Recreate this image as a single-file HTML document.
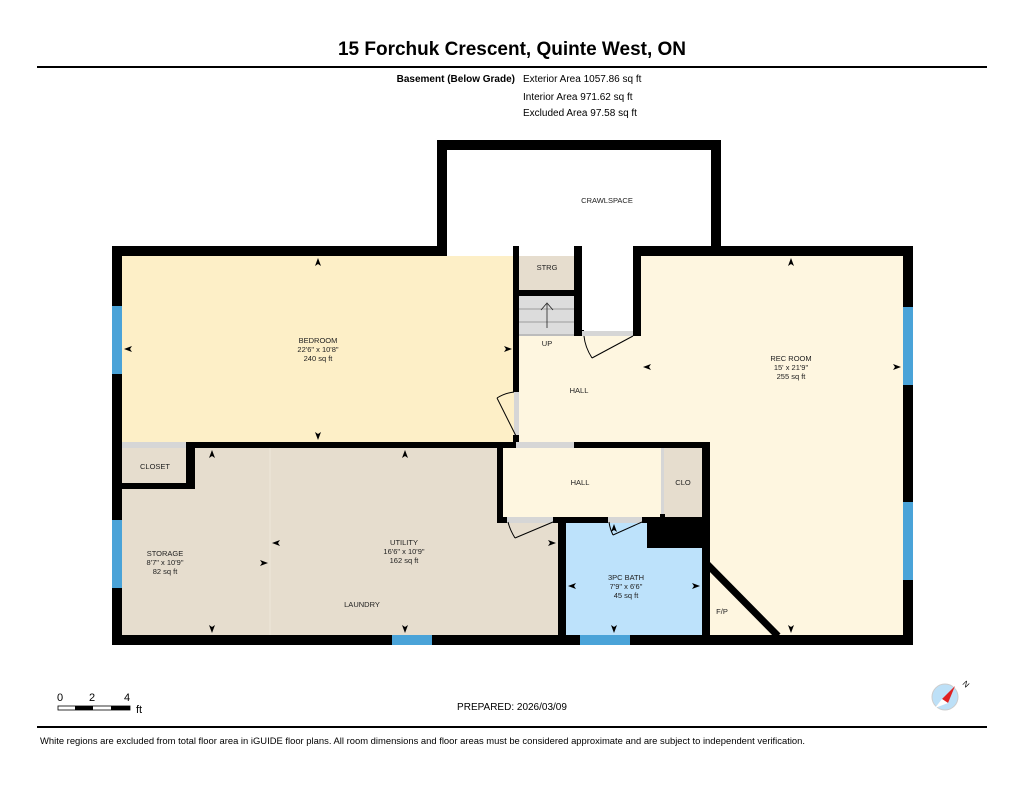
<!DOCTYPE html>
<html><head><meta charset="utf-8"><style>
body{margin:0;background:#fff;width:1024px;height:791px;overflow:hidden;font-family:"Liberation Sans",Arial,sans-serif}
</style></head><body>
<svg width="1024" height="791" xmlns="http://www.w3.org/2000/svg" font-family="Liberation Sans, Arial, sans-serif">
<text x="512" y="55" text-anchor="middle" font-size="19" font-weight="bold">15 Forchuk Crescent, Quinte West, ON</text>
<rect x="37" y="66" width="950" height="2" fill="#000"/>
<text x="515" y="82" text-anchor="end" font-size="10" font-weight="bold">Basement (Below Grade)</text>
<text x="523" y="82" font-size="10">Exterior Area 1057.86 sq ft</text>
<text x="523" y="100" font-size="10">Interior Area 971.62 sq ft</text>
<text x="523" y="116" font-size="10">Excluded Area 97.58 sq ft</text>

<!-- floors -->
<rect x="122" y="256" width="392" height="187" fill="#fdefc7"/>
<rect x="514" y="335" width="135" height="108" fill="#fef6e0"/>
<rect x="640" y="256" width="263" height="379" fill="#fef6e0"/>
<rect x="122" y="448" width="436" height="187" fill="#e6ddce"/>
<line x1="270" y1="448" x2="270" y2="635" stroke="#efe7da" stroke-width="1"/>
<rect x="503" y="448" width="160" height="70" fill="#fef6e0"/>
<rect x="663" y="448" width="39" height="70" fill="#e6ddce"/>
<rect x="122" y="448" width="66" height="37" fill="#e6ddce"/>
<rect x="566" y="522" width="136" height="113" fill="#bde2fb"/>
<rect x="518" y="256" width="58" height="35" fill="#e6ddce"/>
<rect x="518" y="296" width="58" height="40" fill="#dcdcdc"/>
<line x1="518" y1="309" x2="576" y2="309" stroke="#888" stroke-width="0.8"/>
<line x1="518" y1="322" x2="576" y2="322" stroke="#888" stroke-width="0.8"/>
<line x1="518" y1="335" x2="576" y2="335" stroke="#888" stroke-width="0.8"/>
<line x1="547" y1="328" x2="547" y2="304" stroke="#222" stroke-width="0.8"/>
<path d="M541 310 L547 303 L553 310" fill="none" stroke="#222" stroke-width="0.8"/>

<g fill="#000">
<rect x="437" y="140" width="284" height="10"/>
<rect x="437" y="140" width="10" height="115"/>
<rect x="711" y="140" width="10" height="115"/>
<rect x="112" y="246" width="335" height="10"/>
<rect x="633" y="246" width="280" height="10"/>
<rect x="112" y="246" width="10" height="399"/>
<rect x="903" y="246" width="10" height="399"/>
<rect x="112" y="635" width="801" height="10"/>
<rect x="513" y="246" width="6" height="90"/>
<rect x="574" y="246" width="8" height="90"/>
<rect x="633" y="246" width="8" height="90"/>
<rect x="518" y="290" width="58" height="6"/>
<rect x="574" y="330" width="10" height="6"/>
<rect x="513" y="336" width="6" height="56"/>
<rect x="513" y="435" width="6" height="13"/>
<rect x="186" y="442" width="330" height="6"/>
<rect x="574" y="442" width="136" height="6"/>
<rect x="186" y="442" width="9" height="47"/>
<rect x="122" y="483" width="73" height="6"/>
<rect x="497" y="442" width="6" height="81"/>
<rect x="497" y="517" width="10" height="6"/>
<rect x="553" y="517" width="55" height="6"/>
<rect x="642" y="517" width="68" height="6"/>
<rect x="558" y="517" width="8" height="120"/>
<rect x="702" y="442" width="8" height="195"/>
<rect x="647" y="517" width="58" height="31"/>
<rect x="660" y="442" width="5" height="6"/>
<rect x="660" y="514" width="5" height="6"/>
</g>
<line x1="706" y1="563" x2="778" y2="636" stroke="#000" stroke-width="7"/>
<g fill="#d6d6d6">
<rect x="582" y="331" width="51" height="5"/>
<rect x="514" y="392" width="5" height="43"/>
<rect x="516" y="442" width="58" height="6"/>
<rect x="122" y="442" width="64" height="6"/>
<rect x="507" y="517" width="46" height="6"/>
<rect x="608" y="517" width="34" height="6"/>
<rect x="661" y="448" width="3" height="66"/>
</g>
<g stroke="#000" stroke-width="1" fill="none">
<line x1="633" y1="336" x2="592" y2="358"/><path d="M592 358 Q585 347 584 336"/>
<line x1="516" y1="436" x2="497" y2="398"/><path d="M497 398 Q505 393 514 392"/>
<line x1="553" y1="522" x2="515" y2="538"/><path d="M515 538 Q510 530 508 522"/>
<line x1="642" y1="522" x2="613" y2="535"/><path d="M613 535 Q610 529 609 522"/>
</g>
<g fill="#4aa3d8">
<rect x="112" y="306" width="10" height="68"/>
<rect x="112" y="520" width="10" height="68"/>
<rect x="903" y="307" width="10" height="78"/>
<rect x="903" y="502" width="10" height="78"/>
<rect x="392" y="635" width="40" height="10"/>
<rect x="580" y="635" width="50" height="10"/>
</g>
<g fill="#000">
<path d="M318 258 l-3 8 l3 -2 l3 2z"/><path d="M318 440 l-3 -8 l3 2 l3 -2z"/>
<path d="M124 349 l8 -3 l-2 3 l2 3z"/><path d="M512 349 l-8 -3 l2 3 l-2 3z"/>
<path d="M212 450 l-3 8 l3 -2 l3 2z"/><path d="M212 633 l-3 -8 l3 2 l3 -2z"/>
<path d="M405 450 l-3 8 l3 -2 l3 2z"/><path d="M405 633 l-3 -8 l3 2 l3 -2z"/>
<path d="M272 543 l8 -3 l-2 3 l2 3z"/><path d="M268 563 l-8 -3 l2 3 l-2 3z"/><path d="M556 543 l-8 -3 l2 3 l-2 3z"/>
<path d="M791 258 l-3 8 l3 -2 l3 2z"/><path d="M791 633 l-3 -8 l3 2 l3 -2z"/>
<path d="M643 367 l8 -3 l-2 3 l2 3z"/><path d="M901 367 l-8 -3 l2 3 l-2 3z"/>
<path d="M568 586 l8 -3 l-2 3 l2 3z"/><path d="M700 586 l-8 -3 l2 3 l-2 3z"/>
<path d="M614 524 l-3 8 l3 -2 l3 2z"/><path d="M614 633 l-3 -8 l3 2 l3 -2z"/>
</g>
<g font-size="7.5" text-anchor="middle" fill="#222">
<text x="607" y="203">CRAWLSPACE</text>
<text x="547" y="270">STRG</text>
<text x="547" y="346">UP</text>
<text x="579" y="393">HALL</text>
<text x="580" y="485">HALL</text>
<text x="683" y="485">CLO</text>
<text x="155" y="469">CLOSET</text>
<text x="318" y="343">BEDROOM</text><text x="318" y="352">22'6" x 10'8"</text><text x="318" y="361">240 sq ft</text>
<text x="791" y="361">REC ROOM</text><text x="791" y="370">15' x 21'9"</text><text x="791" y="379">255 sq ft</text>
<text x="404" y="545">UTILITY</text><text x="404" y="554">16'6" x 10'9"</text><text x="404" y="563">162 sq ft</text>
<text x="165" y="556">STORAGE</text><text x="165" y="565">8'7" x 10'9"</text><text x="165" y="574">82 sq ft</text>
<text x="362" y="607">LAUNDRY</text>
<text x="626" y="580">3PC BATH</text><text x="626" y="589">7'9" x 6'6"</text><text x="626" y="598">45 sq ft</text>
<text x="722" y="614">F/P</text>
</g>
<g font-size="11"><text x="60" y="701" text-anchor="middle">0</text><text x="92" y="701" text-anchor="middle">2</text><text x="127" y="701" text-anchor="middle">4</text><text x="136" y="713">ft</text></g>
<rect x="58" y="706" width="72" height="4" fill="#fff" stroke="#000" stroke-width="0.8"/>
<rect x="75" y="706" width="18" height="4" fill="#000"/><rect x="111" y="706" width="19" height="4" fill="#000"/>
<text x="512" y="710" text-anchor="middle" font-size="10">PREPARED: 2026/03/09</text>
<circle cx="945" cy="697" r="13" fill="#bde0f7" stroke="#ccc" stroke-width="1"/>
<path d="M955 686 L942 699 L948 703z" fill="#e02020"/>
<path d="M935 708 L942 699 L948 703z" fill="#fff"/>
<text x="962" y="684" font-size="8" transform="rotate(45 962 684)">N</text>
<rect x="37" y="726" width="950" height="2" fill="#000"/>
<text x="40" y="744" font-size="9" textLength="765" lengthAdjust="spacingAndGlyphs">White regions are excluded from total floor area in iGUIDE floor plans. All room dimensions and floor areas must be considered approximate and are subject to independent verification.</text>
</svg>
</body></html>
